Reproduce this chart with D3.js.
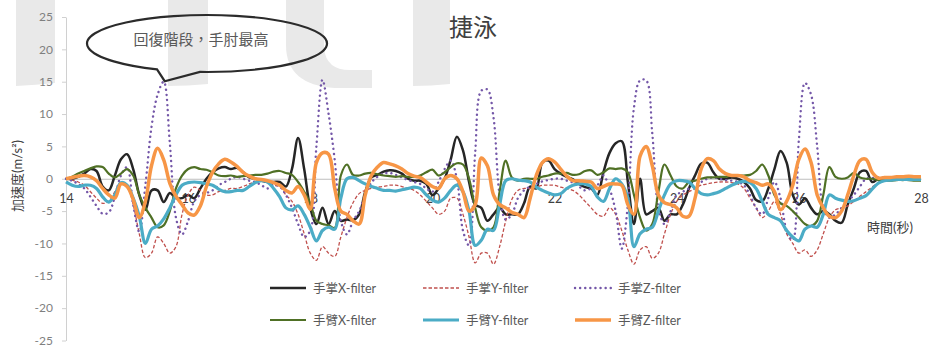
<!DOCTYPE html>
<html>
<head>
<meta charset="utf-8">
<script src="https://cdn.jsdelivr.net/npm/d3@7"></script>
<style>
  body { margin: 0; background: #fff; }
  svg { display: block; }
  text { font-family: 'Lato', 'Noto Sans CJK TC', sans-serif; }
</style>
</head>
<body>
<svg id="chart" width="930" height="347"></svg>
<script>
// Filtered acceleration (m/s²), sampled every 0.1 s from 14.0 s to 28.0 s
const startTime = 14;
const sampleStep = 0.1;

const palmX = [
  0, 0, 0.3, 0.8, 1.5, 1.2, -1.2, -1.8, 0.5, 3,
  3.8, 1.5, -2.5, -4.8, -1.8, -1.8, -3.6, -2.2, -3, -3,
  -2.5, -3, -1.5, 0, 1, 1.6, 1.8, 1.5, 1.7, 1,
  0.2, 0, -0.3, -0.5, -0.5, -0.5, -1.2, 1.5, 6.3, 1.5,
  -4.5, -7, -4.5, -7, -5, -6.5, -6.3, -6.4, -5.5, -2,
  0.2, 0.6, 1.1, 1.3, 1.2, 0.8, 0, -0.3, -0.3, -0.8,
  -2.5, -1.5, 0, 3, 6.5, 4.4, -0.5, -4, -4.5, -6.5,
  -5.5, -4.5, -5.5, -5.5, -5.5, -3.8, -1.2, -1.5, 2.5, 2.8,
  1.5, 0.8, 0.3, -0.1, -0.8, -1.3, -1.5, -2.5, 1, 4,
  5.5, 5.8, -0.5, -7, 0, -5.5, -5, -4.5, -6.5, -5.5,
  -5.5, -4, -1.5, 0.5, 2.3, 2.5, 1, 0, 0, 0.2,
  0, -0.5, -1.5, -3.3, -3.5, -1.5, 1.5, 4.3, 2.5, -2.5,
  -4, -3, -4.5, -5.5, -5, -5.5, -6.5, -6.8, -4, -1.5,
  1, 1.2, -0.5, 0, 0.1, 0, 0, 0.1, 0, 0,
  0
];

const palmY = [
  0, -0.2, -0.5, -1, -2, -3, -3.8, -3.5, -2, -0.5,
  -1, -4, -8.5, -12.2, -11.5, -9, -10, -11.5, -10.5, -5.5,
  -2.5, -1.3, -1.8, -2.5, -2.5, -2, -1.8, -1.5, -1.5, -1.2,
  -0.8, -0.5, -0.3, -0.5, -1, -1.2, -2.5, -3.5, -5.5, -8.5,
  -11.5, -12.6, -10.5, -11.5, -12, -9, -6, -3.7, -2.3, -1.8,
  -1.5, -1.3, -1.2, -1, -1, -1.2, -1.5, -1.8, -2.5, -3.5,
  -4.5, -5.5, -5, -3, -3, -5.5, -9, -13, -11.5, -11.5,
  -13.2, -10.5, -6.5, -3.2, -1.8, -1.5, -1.5, -1.3, -1, -1,
  -1, -1.3, -1.5, -1.8, -2.5, -3.5, -4.5, -5.5, -5.8, -4.5,
  -5.5, -8, -11, -13.2, -11, -10.5, -12.3, -11.5, -8.5, -5.5,
  -3.5, -2.5, -2, -1.5, -1, -0.8, -0.6, -0.5, -0.5, -0.6,
  -0.8, -1.5, -3, -4.5, -6, -5, -3.5, -5.5, -8.5, -10,
  -11.5, -11, -12, -11, -8.5, -6, -4.8, -4.5, -4.2, -3.5,
  -2.7, -2, -1.3, -0.6, -0.2, 0, 0, 0, 0.1, 0,
  0
];

const palmZ = [
  0, -0.3, -0.8, -1.5, -2.8, -4.2, -5.4, -5.2, -2.8, 0.5,
  1.8, -4, -8.2, -1, 8, 13, 15, 5.5, -6, -8.6,
  -6.5, -3.5, -2.5, -2.2, -1.8, -1, -0.5, 0, 0.3, 0,
  -0.3, -0.5, -1, -1.5, -1, -1.2, -2.5, -4.5, -7, -9,
  -8, 5, 15.3, 10, 2.9, -6.5, -8.6, -6.5, -5, -2.5,
  -0.6, 0.3, 0.8, 0.9, 0.6, 0.2, -0.2, -0.5, -0.8, -1.5,
  -2, -0.5, 1.5, 2.8, 0, -8, -10.3, 4, 13.6, 13.8,
  9.5, -2.5, -6.3, -5.5, -3, -1.8, -1.2, -0.8, -0.4, -0.2,
  0, 0, -0.3, -0.6, -1.2, -1.8, -1.5, -1, 0.5, -1.5,
  -5, -10.8, -4, 11, 15.2, 15.2, 7, -4.5, -7, -5,
  -2.5, -2, -1.5, -1, -0.5, 0, 0.2, 0, -0.2, -0.3,
  -0.5, -1, -2.5, -4.5, -5.5, -3, -0.5, -3, -8, -9.5,
  6, 14.8, 13, 5, -4.5, -6, -5.5, -4.5, -3.5, -2.5,
  -1.2, 0, 0.1, 0.2, 0.2, 0.1, 0.2, 0.1, 0, 0.1,
  0
];

const armX = [
  0, 0.3, 0.8, 1.2, 1.6, 1.9, 1.8, 0.8, 0.2, 0.8,
  1.5, 0.5, -2.5, -4.5, -6, -7.5, -7.2, -5, -1.5, 0.5,
  1.5, 1.8, 1.5, 1.4, 1, 0.5, 0.4, 0.5, 0.3, 0.4,
  0.5, 0.6, 0.6, 0.8, 1.1, 1.2, 0.9, 0.6, -0.5, -2,
  -3.8, -6.5, -7, -7.2, -7.6, 0.5, 2.2, 0.6, 0.5, 0.8,
  0.9, 0.7, 0.5, 0.4, 0.3, 0.4, 0.3, 0.3, 0.5, 1,
  1.4, 0.5, 1, 1.8, 2.4, 2.2, 0, -4.5, -7.5, -8,
  -7.5, -2, 2.8, 0.2, -0.3, 0, 0, 0, 0.3, 0.5,
  0.8, 0.8, 0.9, 0.6, 0.7, 1.2, 1.3, 0.6, 1, 1.6,
  1.5, 1.6, 1, -2.5, -6, -8, -7, -2, 2.2, 0.5,
  -1.2, -1.5, -0.5, -0.3, 0, 0.2, 0.2, 0.3, 0.3, 0.5,
  0.5, 0.5, 0.6, 1.2, 2.2, 0.5, -2.5, -3.8, -4.2, -5,
  -6, -7, -7.3, -6.5, -2.5, 1.8, 0.3, 0, 0.2, 0.9,
  0.2, 0, 0, -0.2, -0.3, -0.3, -0.2, -0.2, -0.2, -0.3,
  -0.3
];

const armY = [
  -0.5, -1, -1.2, -1, -1, -1.5, -2.8, -3.6, -2.5, -0.6,
  -1, -3, -5.8, -10, -7.8, -7.3, -6.2, -4.5, -2.5, -1,
  -0.6, -0.5, -0.6, -0.8, -1, -1.6, -2, -2, -1.8, -1.8,
  -1.2, -0.6, -0.3, -0.5, -1.5, -2.8, -4.5, -4.8, -4.2, -5.5,
  -7.5, -9.6, -8, -7.5, -7.8, -3, 0, 0.2, -0.3, -0.8,
  -1.2, -1.5, -1.8, -1.8, -1.9, -1.7, -1.5, -1.3, -1.5, -2.5,
  -3.3, -3.6, -3, -1.8, -1, -2, -5, -10.3, -9.5, -7.8,
  -8, -4, -0.3, 0, -0.2, -0.3, -0.5, -1.3, -1.8, -2.2,
  -2.5, -2.3, -1.5, -1, -0.8, -0.8, -1.2, -2.8, -3.5, -1.5,
  0, -0.8, -3, -10.5, -8.5, -7.8, -7.5, -5, -2.5, -0.8,
  -0.3, -0.3, -0.5, -1.5, -2.3, -2.5, -2.3, -2, -1.5, -1,
  -0.6, -0.4, -0.6, -1.5, -3.5, -5.5, -6, -6.5, -8, -9,
  -9.6, -7.8, -7.3, -7.5, -5.5, -2.5, -3, -3.3, -3.5, -3.4,
  -3, -2.6, -1.6, -0.7, -0.3, -0.2, -0.1, -0.1, -0.1, -0.1,
  -0.1
];

const armZ = [
  0, 0.2, 0.4, 0.5, 0.3, -0.3, -1.5, -2.5, -3, -0.8,
  -1.2, -3.2, -6, -3.5, 2, 4.7, 2.9, -0.7, -2.7, -4,
  -5.3, -5.6, -4.2, -1.2, 1, 2.3, 3, 2.6, 1.9, 1,
  0.4, 0, -0.1, -0.3, -0.6, -1, -1.8, -2.2, -1.2, -2.5,
  -4.7, 2.5, 4, 3.8, -1.5, -5, -5.5, -6.5, -7, -2.5,
  0.5, 1.8, 2.5, 2.3, 2, 1.5, 0.8, 0.4, 0.2, -0.5,
  -1.2, -1.5, 0, 0.5, 0, -2, -5, -4, 3.2, 2,
  -2.5, -4, -4.5, -5.2, -5.5, -6, -3, 0.5, 2.5, 3.1,
  2.6, 1.5, 0.4, -0.3, -0.3, -0.4, -0.5, -1.5, -1.2, -0.8,
  -0.8, -1, -4, -5.5, 3.5, 5, 2, -2.5, -3.7, -4,
  -4.5, -5.8, -5.8, -3, 1.5, 3.1, 2.8, 1.5, 0.8, 0.5,
  0.5, 0.3, -0.3, -0.6, -1, -0.8, -2, -4.8, -3.5, -1,
  3, 4.6, 2.5, -2.5, -4.5, -5.8, -6, -5, -2.5, 0.5,
  2.8, 3, 1, 0.1, 0.2, 0.2, 0.3, 0.3, 0.4, 0.3,
  0.3
];

const seriesNames = ['手掌X-filter', '手掌Y-filter', '手掌Z-filter', '手臂X-filter', '手臂Y-filter', '手臂Z-filter'];
const seriesValues = [palmX, palmY, palmZ, armX, armY, armZ];

const xTicks = [14, 16, 18, 20, 22, 24, 26, 28];
const yTicks = [-25, -20, -15, -10, -5, 0, 5, 10, 15, 20, 25];

const chartTitle = '捷泳';
const yTitle = '加速度(m/s²)';
const xTitle = '時間(秒)';
const calloutText = '回復階段，手肘最高';

// Line styles per series (same order as seriesNames)
const styles = [
  { color: '#262626', width: 2.5, dash: null, cap: 'butt' },
  { color: '#c0504d', width: 1.3, dash: '3.5,2', cap: 'butt' },
  { color: '#7457a8', width: 2.4, dash: '0.1,5', cap: 'round' },
  { color: '#4f7025', width: 2.2, dash: null, cap: 'butt' },
  { color: '#4bacc6', width: 3.2, dash: null, cap: 'butt' },
  { color: '#f79646', width: 3.5, dash: null, cap: 'butt' }
];

const svg = d3.select('#chart');
const time = palmX.map((_, i) => +(startTime + i * sampleStep).toFixed(1));

const x = d3.scaleLinear().domain([14, 28]).range([66, 921]);
const y = d3.scaleLinear().domain([-25, 25]).range([340.5, 17]);

// Plain hyphen for negative tick labels
const plainNumber = d => String(d);

// Faint background lettering
const bg = svg.append('g').attr('fill', '#e9e9e9');
[
  'M16,0 L55,0 L55,83 Q36,85 16,86 Z',
  'M168,0 L208,0 L208,84 Q188,86 168,86 Z',
  'M286,0 L324,0 L324,48 Q326,70 350,70 L372,70 L372,88 L335,88 Q286,85 286,45 Z',
  'M413,0 L450,0 L450,84 Q431,86 413,86 Z'
].forEach(d => bg.append('path').attr('d', d));

// Y axis
const yAxis = svg.append('g')
  .attr('transform', 'translate(66,0)')
  .call(d3.axisLeft(y).tickValues(yTicks).tickFormat(plainNumber).tickSize(4).tickSizeOuter(0).tickPadding(9));
yAxis.select('.domain').attr('stroke', '#d0d0d0');
yAxis.selectAll('.tick line').attr('stroke', '#d0d0d0');
yAxis.selectAll('.tick text')
  .attr('fill', '#7f7f7f')
  .style('font-size', '12px')
  .style('font-family', "'Lato', sans-serif");

// X axis along zero
const xAxis = svg.append('g')
  .attr('transform', `translate(0,${y(0)})`)
  .call(d3.axisBottom(x).tickValues(xTicks).tickFormat(plainNumber).tickSize(0).tickSizeOuter(0).tickPadding(15));
xAxis.select('.domain').attr('stroke', '#bfbfbf');
xAxis.selectAll('.tick text')
  .attr('fill', '#404040')
  .style('font-size', '12.5px')
  .style('font-family', "'Lato', sans-serif");

// Series lines
const line = d3.line()
  .x((d, i) => x(time[i]))
  .y(d => y(d))
  .curve(d3.curveCatmullRom.alpha(0.5));

const linesG = svg.append('g').attr('fill', 'none');
seriesValues.forEach((vals, k) => {
  const s = styles[k];
  const p = linesG.append('path')
    .attr('d', line(vals))
    .attr('stroke', s.color)
    .attr('stroke-width', s.width)
    .attr('stroke-linecap', s.cap)
    .attr('stroke-linejoin', 'round');
  if (s.dash) p.attr('stroke-dasharray', s.dash);
});

// Titles
svg.append('text')
  .attr('x', 473).attr('y', 36)
  .attr('text-anchor', 'middle')
  .attr('fill', '#404040')
  .style('font-size', '24px')
  .text(chartTitle);

svg.append('text')
  .attr('transform', 'translate(22,176) rotate(-90)')
  .attr('text-anchor', 'middle')
  .attr('fill', '#404040')
  .style('font-size', '13px')
  .text(yTitle);

svg.append('text')
  .attr('x', 867).attr('y', 232)
  .attr('fill', '#404040')
  .style('font-size', '13px')
  .text(xTitle);

// Callout bubble pointing at the first elbow peak
const cx = 207, cy = 43.5, rx = 120, ry = 28.5;
const leftX = 157, rightX = 200;
const yOn = px => cy + ry * Math.sqrt(1 - Math.pow((px - cx) / rx, 2));
const tipX = x(startTime + 16 * sampleStep) + 1;
const tipY = y(d3.max(palmZ.slice(10, 20))) - 0.5;
svg.append('path')
  .attr('d', `M${leftX},${yOn(leftX)} A${rx},${ry} 0 1 1 ${rightX},${yOn(rightX)} L${tipX},${tipY} Z`)
  .attr('fill', 'none')
  .attr('stroke', '#2b2b2b')
  .attr('stroke-width', 2.2)
  .attr('stroke-linejoin', 'miter');
svg.append('text')
  .attr('x', 201).attr('y', 45)
  .attr('text-anchor', 'middle')
  .attr('fill', '#595959')
  .style('font-size', '15px')
  .text(calloutText);

// Legend: two rows of three
const legendCols = [270, 423, 575];
const legendRows = [288, 320];
const legend = svg.append('g');
seriesNames.forEach((name, k) => {
  const s = styles[k];
  const lx = legendCols[k % 3];
  const ly = legendRows[Math.floor(k / 3)];
  const l = legend.append('line')
    .attr('x1', lx).attr('x2', lx + 36)
    .attr('y1', ly).attr('y2', ly)
    .attr('stroke', s.color)
    .attr('stroke-width', s.width)
    .attr('stroke-linecap', s.cap);
  if (s.dash) l.attr('stroke-dasharray', s.dash);
  legend.append('text')
    .attr('x', lx + 43).attr('y', ly + 4.5)
    .attr('fill', '#595959')
    .style('font-size', '12.5px')
    .text(name);
});
</script>
</body>
</html>
